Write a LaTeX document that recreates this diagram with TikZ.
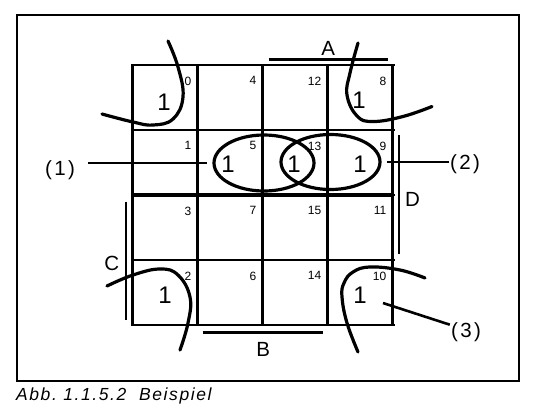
\documentclass[tikz,border=0pt]{standalone}
\usepackage{fontspec}
\setmainfont{Liberation Sans}
\usetikzlibrary{shapes.geometric, positioning}

\begin{document}
\begin{tikzpicture}[
    x=1pt, y=-1pt,                    % pixel grid, y runs downwards
    frame/.style={line width=1.8pt},
    cellline/.style={line width=2.2pt, line cap=rect},
    bar/.style={line width=2.8pt},
    loop/.style={line width=3.2pt, line cap=round},
    group/.style={ellipse, draw, line width=3.2pt, inner sep=0pt},
    pointer/.style={line width=2.6pt},
    one/.style={font=\fontsize{24}{24}\selectfont, anchor=base, inner sep=0pt},
    idx/.style={font=\fontsize{12}{12}\selectfont, anchor=north east,
                inner sep=0pt},
    lbl/.style={font=\fontsize{20.5}{20}\selectfont\addfontfeature{LetterSpace=12},
                anchor=base, inner sep=1pt}
]
\useasboundingbox (0,0) rectangle (560,418);
\draw [frame] (17.3,15) rectangle (519.3,381.3);

% Karnaugh grid
\foreach \i in {0,...,4} {
  \draw [cellline] ({132.5+65*\i},65) -- ({132.5+65*\i},325);
  \draw [cellline] (132.5,{65+65*\i}) -- (393.5,{65+65*\i});
}
\draw [line width=3.2pt] (132.5,195) -- (393.5,195);

% cell indices
\foreach \n/\c/\r in {0/0/0, 4/1/0, 12/2/0, 8/3/0,
                      1/0/1, 5/1/1, 13/2/1, 9/3/1,
                      3/0/2, 7/1/2, 15/2/2, 11/3/2,
                      2/0/3, 6/1/3, 14/2/3, 10/3/3}
  \node (idx\n) [idx] at ({132.5+65*\c+59},{65+65*\r+11.5}) {\n};

% entries
\node (one0)  [one] at (164,110)   {1};
\node (one8)  [one] at (359,108.5) {1};
\node (one5)  [one] at (228,172.5) {1};
\node (one13) [one] at (294,172.5) {1};
\node (one9)  [one] at (360,172.5) {1};
\node (one2)  [one] at (165,303)   {1};
\node (one10) [one] at (360,303)   {1};

% groups
\node (grp1) [group, minimum width=100pt, minimum height=56pt] at (264,163)   {};
\node (grp2) [group, minimum width=99pt,  minimum height=55pt] at (330.5,162) {};

\draw [loop] plot [smooth, tension=0.7] coordinates
  {(168,41) (178,67) (183,97) (173,119) (153,125) (133,122) (102,114)};
\draw [loop] plot [smooth, tension=0.7] coordinates
  {(358,43) (350,73) (347,95) (357,116) (373,121.5) (403,116.5) (432,106.5)};
\draw [loop] plot [smooth, tension=0.7] coordinates
  {(107,286) (133,275) (160,269) (178,275) (190,297) (188,323) (180,350)};
\draw [loop] plot [smooth, tension=0.7] coordinates
  {(425,278) (400,270) (370,267) (353,272) (344,283) (342,297) (347,323) (358,352)};

% variables
\node (lblA) [lbl] at (328.3,55)    {A};
\node (lblB) [lbl] at (263.3,356)   {B};
\node (lblC) [lbl] at (111.7,270)   {C};
\node (lblD) [lbl] at (412.5,206.7) {D};
\draw [bar] (268.6,59.3) -- (387.5,59.3);
\draw [bar] (202.7,332.3) -- (322.7,332.3);
\draw [bar] (126,201.7) -- (126,320);
\draw [bar] (399,135) -- (399,254);

% pointers
\node (lbl1) [lbl] at (60,175)  {(1)};
\node (lbl2) [lbl] at (465,169) {(2)};
\node (lbl3) [lbl] at (466,337) {(3)};
\coordinate (p3) at (383,303);

\draw [pointer, shorten <=12pt, shorten >=5pt] (lbl1.east |- grp1.west) -- (grp1.west);
\draw [pointer, shorten <=5pt] (grp2.east) -- (grp2.east -| lbl2.west);
\draw [pointer] (p3) -- ([yshift=7pt]lbl3.west);

\node (caption) [anchor=base west, inner sep=0pt,
                 font=\fontsize{17.5}{18}\selectfont\itshape\addfontfeature{LetterSpace=9}]
      at (16,400) {Abb.\ 1.1.5.2~~Beispiel};
\end{tikzpicture}
\end{document}
